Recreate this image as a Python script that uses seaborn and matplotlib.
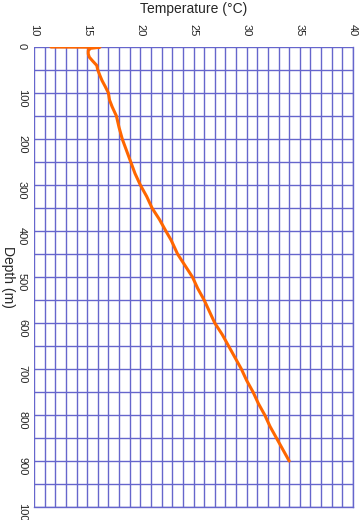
import numpy as np
import pandas as pd
import matplotlib
matplotlib.use("Agg")
import matplotlib.pyplot as plt
import seaborn as sns
from matplotlib.ticker import MultipleLocator

# perfil de temperatura
profundidad = [0, 0.5, 3, 8, 15, 22, 30, 40, 50, 62, 73, 86, 100, 115, 130, 140,
               150, 175, 200, 225, 250, 275, 300, 325, 350, 375, 400, 420, 450,
               475, 500, 525, 550, 575, 600, 625, 650, 675, 700, 725, 750, 775,
               800, 825, 850, 875, 900]
temperatura = [11.6, 16.2, 15.3, 15.1, 15.1, 15.2, 15.5, 15.9, 16.0, 16.2, 16.4,
               16.7, 17.0, 17.1, 17.35, 17.55, 17.75, 18.0, 18.3, 18.7, 19.1,
               19.5, 20.0, 20.6, 21.1, 21.8, 22.4, 22.9, 23.5, 24.2, 24.9, 25.4,
               26.0, 26.5, 27.0, 27.7, 28.3, 28.9, 29.5, 30.0, 30.6, 31.1, 31.7,
               32.2, 32.8, 33.4, 34.0]

df = pd.DataFrame({"temperatura": temperatura, "profundidad": profundidad})

sns.set_style("white")
plt.rcParams["font.family"] = ["Liberation Sans", "DejaVu Sans"]

fig = plt.figure(figsize=(3.6, 5.2), dpi=100)
ax = fig.add_axes([34 / 360, 1 - 507 / 520, 319 / 360, 460 / 520])

color_grid = "#6666cc"
sns.lineplot(data=df, x="temperatura", y="profundidad", sort=False,
             estimator=None, color="#ff6600", lw=2.2, ax=ax, zorder=3)

ax.set_xlim(10, 40)
ax.set_ylim(1000, 0)
ax.xaxis.set_major_locator(MultipleLocator(5))
ax.xaxis.set_minor_locator(MultipleLocator(1))
ax.yaxis.set_major_locator(MultipleLocator(100))
ax.yaxis.set_minor_locator(MultipleLocator(50))
ax.grid(which="both", color=color_grid, lw=1.0)
ax.xaxis.tick_top()
ax.xaxis.set_label_position("top")
ax.tick_params(which="both", length=0)
ax.tick_params(axis="x", pad=8, labelsize=8, labelrotation=-90)
ax.tick_params(axis="y", pad=5, labelsize=8, labelrotation=-90)
for s in ax.spines.values():
    s.set_color(color_grid)
    s.set_linewidth(1.0)
ax.spines["top"].set_visible(False)
ax.spines["left"].set_visible(False)

ax.set_xlabel("Temperature (°C)", fontsize=10)
ax.xaxis.set_label_coords(0.5, 1.083)
ax.xaxis.label.set_va("center")
ax.set_ylabel("Depth (m)", fontsize=10, rotation=-90, va="center")
ax.yaxis.set_label_coords(-0.083, 0.5)

fig.savefig("out.png", dpi=100)
